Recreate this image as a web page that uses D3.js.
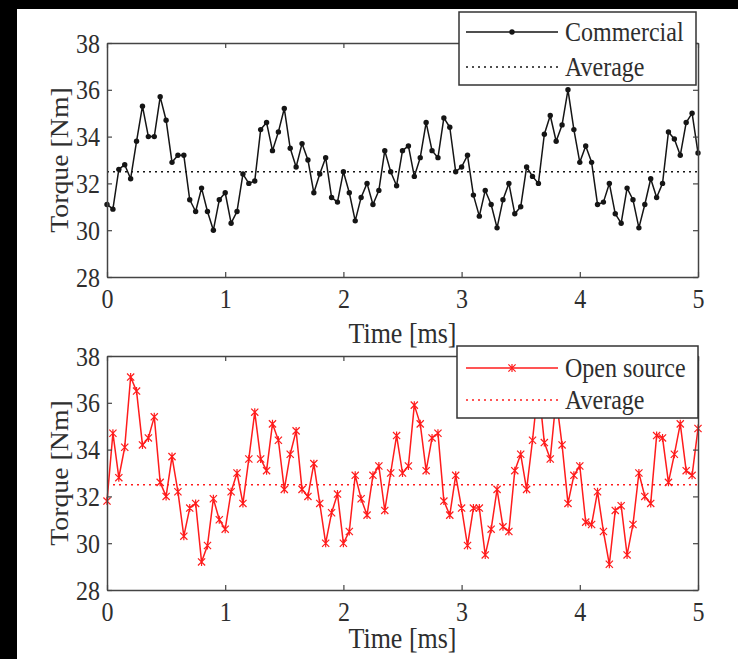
<!DOCTYPE html>
<html><head><meta charset="utf-8">
<script src="https://cdn.jsdelivr.net/npm/d3@7/dist/d3.min.js"></script>
<style>
body{margin:0;background:#fff}
svg{display:block}
text{font-family:"Liberation Serif","Times New Roman",serif;fill:#2e2e2e}
</style>
</head><body>
<svg id="c" width="738" height="659"></svg>
<script>
const timeStep = 0.05; // ms between samples
const commercial = [
 31.1,30.9,32.6,32.8,32.2,33.8,35.3,34.0,34.0,35.7,
 34.7,32.9,33.2,33.2,31.3,30.8,31.8,30.8,30.0,31.3,
 31.6,30.3,30.8,32.4,32.0,32.1,34.3,34.6,33.4,34.2,
 35.2,33.5,32.7,33.7,33.0,31.6,32.4,33.1,31.4,31.2,
 32.5,31.6,30.4,31.4,32.0,31.1,31.7,33.4,32.5,31.9,
 33.4,33.6,32.3,33.1,34.6,33.4,33.1,34.8,34.4,32.5,
 32.7,33.2,31.5,30.6,31.7,31.1,30.1,31.3,32.0,30.7,
 31.0,32.7,32.3,32.0,34.1,34.9,33.8,34.5,36.0,34.3,
 32.9,33.6,32.9,31.1,31.2,32.0,30.7,30.3,31.8,31.3,
 30.1,31.1,32.2,31.4,32.0,34.2,33.9,33.2,34.6,35.0,
 33.3];
const openSource = [
 31.8,34.7,32.8,34.1,37.1,36.5,34.2,34.5,35.4,32.6,
 32.0,33.7,32.2,30.3,31.5,31.7,29.2,29.9,31.9,31.0,
 30.6,32.2,33.0,31.7,33.6,35.6,33.6,33.1,35.1,34.4,
 32.3,33.8,34.8,32.3,32.0,33.4,31.7,30.0,31.3,32.1,
 30.0,30.5,32.9,31.9,31.2,32.9,33.3,31.4,33.0,34.6,
 33.0,33.3,35.9,35.1,33.1,34.5,34.7,31.8,31.2,32.9,
 31.5,29.9,31.5,31.5,29.5,30.6,32.3,30.7,30.5,33.1,
 33.8,32.3,34.4,36.8,34.3,33.6,36.2,34.2,31.7,32.9,
 33.3,30.9,30.8,32.2,30.5,29.1,31.4,31.6,29.5,30.8,
 33.0,32.0,31.7,34.6,34.5,32.6,33.8,35.1,33.1,32.9,
 34.9];
const averageCommercial = 32.5;
const averageOpenSource = 32.5;
const xTicks = [0,1,2,3,4,5];
const yTicks = [28,30,32,34,36,38];
const xLabel = "Time [ms]";
const yLabel = "Torque [Nm]";
const legendCommercial = ["Commercial","Average"];
const legendOpenSource = ["Open source","Average"];

const SY = 1.14; // vertical stretch of the scanned lettering

const svg = d3.select("#c");
svg.append("rect").attr("width",738).attr("height",659).attr("fill","#fff");

const panels = [
  {top:43, bottom:277, data:commercial, avg:averageCommercial, color:"#151515", marker:"dot",
   legend:legendCommercial, box:[459,12,696,85], rows:[32,67], xLabelY:343},
  {top:356, bottom:590, data:openSource, avg:averageOpenSource, color:"#ff1c1c", marker:"star",
   legend:legendOpenSource, box:[457,346,698,418], rows:[368,400], xLabelY:648}
];

const axisColor = "#444";
const starPath = "M-3.6,-3.6L3.6,3.6M-3.6,3.6L3.6,-3.6M0,-4L0,4";

function stretch(sel){
  sel.each(function(){
    const t = d3.select(this);
    const x = +(t.attr("x")||0), y = +(t.attr("y")||0);
    t.attr("x",null).attr("y",null).attr("transform",`translate(${x},${y}) scale(1,${SY})`);
  });
}

panels.forEach(p => {
  const g = svg.append("g");
  const x = d3.scaleLinear().domain([0,5]).range([107,698]);
  const y = d3.scaleLinear().domain([28,38]).range([p.bottom,p.top]);

  // series
  const line = d3.line().x((d,i)=>x(i*timeStep)).y(d=>y(d));
  g.append("path").datum(p.data).attr("d",line).attr("fill","none")
    .attr("stroke",p.color).attr("stroke-width",1.5).attr("stroke-linejoin","round");
  // average
  g.append("line").attr("x1",x(0)).attr("x2",x(5)).attr("y1",y(p.avg)).attr("y2",y(p.avg))
    .attr("stroke",p.color).attr("stroke-width",1.6).attr("stroke-dasharray","2,4");
  // markers
  const pts = g.append("g").selectAll("g").data(p.data).join("g")
    .attr("transform",(d,i)=>`translate(${x(i*timeStep)},${y(d)})`);
  if (p.marker==="dot") {
    pts.append("circle").attr("r",2.7).attr("fill",p.color);
  } else {
    pts.append("path").attr("d",starPath)
      .attr("stroke",p.color).attr("stroke-width",1.2).attr("fill","none");
  }

  // axes (ticks inward on all sides)
  const ab = g.append("g").attr("transform",`translate(0,${p.bottom})`)
    .call(d3.axisBottom(x).tickValues(xTicks).tickSizeInner(-5).tickSizeOuter(0).tickFormat(d3.format("d")));
  ab.selectAll("text").attr("y",31).attr("dy",null).style("font-size","24px");
  const at = g.append("g").attr("transform",`translate(0,${p.top})`)
    .call(d3.axisTop(x).tickValues(xTicks).tickSizeInner(-5).tickSizeOuter(0).tickFormat(""));
  const al = g.append("g").attr("transform",`translate(107,0)`)
    .call(d3.axisLeft(y).tickValues(yTicks).tickSizeInner(-5).tickSizeOuter(0).tickFormat(d3.format("d")));
  al.selectAll("text").attr("x",-7).style("font-size","24px").attr("dy","0.33em");
  const ar = g.append("g").attr("transform",`translate(698,0)`)
    .call(d3.axisRight(y).tickValues(yTicks).tickSizeInner(-5).tickSizeOuter(0).tickFormat(""));
  [ab,at,al,ar].forEach(a=>{
    a.select(".domain").attr("stroke",axisColor).attr("stroke-width",1.5);
    a.selectAll(".tick line").attr("stroke",axisColor).attr("stroke-width",1.2);
    a.selectAll("text").attr("fill","#2e2e2e").style("font-family",'"Liberation Serif",serif');
  });
  stretch(ab.selectAll("text"));
  stretch(al.selectAll("text"));

  // axis labels
  g.append("text").attr("x",(x(0)+x(5))/2).attr("y",p.xLabelY).attr("text-anchor","middle")
    .style("font-size","26px").text(xLabel).call(stretch);
  g.append("text").attr("transform",`translate(68,${(p.top+p.bottom)/2}) scale(1,1.07) rotate(-90)`)
    .attr("text-anchor","middle").style("font-size","26px").text(yLabel);

  // legend
  const [lx0,ly0,lx1,ly1] = p.box;
  const lg = g.append("g");
  lg.append("rect").attr("x",lx0).attr("y",ly0).attr("width",lx1-lx0).attr("height",ly1-ly0)
    .attr("fill","#fff").attr("stroke","#333").attr("stroke-width",1.5);
  lg.append("line").attr("x1",466).attr("x2",558).attr("y1",p.rows[0]).attr("y2",p.rows[0])
    .attr("stroke",p.color).attr("stroke-width",1.5);
  const mk = lg.append("g").attr("transform",`translate(512,${p.rows[0]})`);
  if (p.marker==="dot") mk.append("circle").attr("r",2.7).attr("fill",p.color);
  else mk.append("path").attr("d",starPath).attr("stroke",p.color).attr("stroke-width",1.2);
  lg.append("line").attr("x1",466).attr("x2",558).attr("y1",p.rows[1]).attr("y2",p.rows[1])
    .attr("stroke",p.color).attr("stroke-width",1.6).attr("stroke-dasharray","2,4");
  p.legend.forEach((t,k)=>{
    lg.append("text").attr("x",565).attr("y",p.rows[k]+9).style("font-size","24px").text(t).call(stretch);
  });
});

// black borders of the scanned figure
svg.append("rect").attr("x",0).attr("y",0).attr("width",738).attr("height",9).attr("fill","#000");
svg.append("rect").attr("x",0).attr("y",0).attr("width",17).attr("height",659).attr("fill","#000");
</script>
</body></html>
